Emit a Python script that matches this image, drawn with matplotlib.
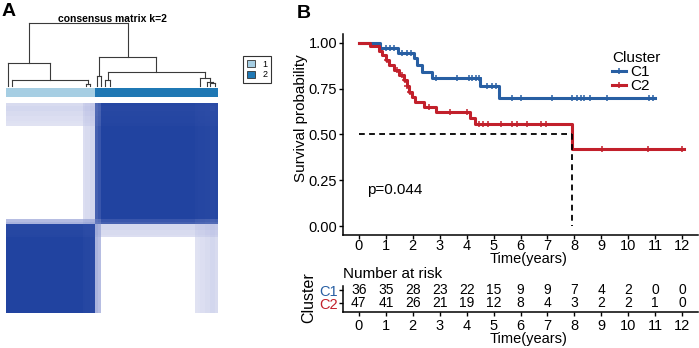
import numpy as np
import matplotlib
matplotlib.use("Agg")
import matplotlib.pyplot as plt
from matplotlib.colors import LinearSegmentedColormap, ListedColormap
from matplotlib.lines import Line2D
from matplotlib.patches import Patch

plt.rcParams['font.family'] = ['Liberation Sans', 'DejaVu Sans']

# ---------------- data: panel A (consensus clustering) ----------------
n_cluster1 = 35
n_cluster2 = 48
# membership in cluster 1 for samples that are not clean
mixed_samples = {30: 0.92, 31: 0.9, 32: 0.9, 33: 0.88, 34: 0.88,
                 35: 0.3, 36: 0.25,
                 74: 0.06, 75: 0.07, 76: 0.08, 77: 0.08, 78: 0.1,
                 79: 0.1, 80: 0.12, 81: 0.12, 82: 0.1}
# dendrogram: (height, left, right); leaves are sample positions
dendro_tree = (1.00,
               (0.362, 0.67, (0.096, 2.47, (0.03, 31.2, 32.8))),
               (0.458, (0.16, 35.6, 37.2),
                (0.223, (0.096, 38.8, 40.7),
                 (0.128, 76.0, (0.069, 78.6, (0.043, 79.9, 81.8))))))

# ---------------- data: panel B (survival) ----------------
c1_times = [0, 0.80, 1.45, 2.04, 2.17, 2.35, 2.72, 4.48, 5.20]
c1_surv = [1.0, 0.972, 0.944, 0.915, 0.878, 0.842, 0.809, 0.762, 0.700]
c1_end = 11.0
c1_censor = [1.0, 1.15, 1.3, 1.6, 1.8, 1.95, 2.85, 3.65, 4.08, 4.2, 4.33,
             4.45, 4.75, 4.95, 5.1, 5.69, 6.0, 7.18, 7.92, 8.1, 8.23, 8.35,
             8.57, 9.22, 10.76, 10.9]

c2_times = [0, 0.43, 0.74, 0.87, 0.99, 1.11, 1.30, 1.48, 1.67, 1.77, 1.86,
            1.98, 2.10, 2.41, 2.85, 4.14, 4.31, 7.92]
c2_surv = [1.0, 0.982, 0.956, 0.933, 0.906, 0.878, 0.851, 0.824, 0.797,
           0.764, 0.733, 0.705, 0.678, 0.651, 0.624, 0.588, 0.556, 0.418]
c2_end = 12.05
c2_censor = [1.05, 1.42, 1.61, 1.73, 1.8, 1.9, 2.6, 3.38, 4.02, 4.45, 4.62,
             4.78, 5.26, 5.69, 5.85, 6.25, 6.76, 6.93, 9.03, 10.72, 12.0]

years = list(range(0, 13))
c1_risk = [36, 35, 28, 23, 22, 15, 9, 9, 7, 4, 2, 0, 0]
c2_risk = [47, 41, 26, 21, 19, 12, 8, 4, 3, 2, 2, 1, 0]
p_text = "p=0.044"

C1_COL = '#285FA3'
C2_COL = '#C2202B'

W, H = 699, 348
fig = plt.figure(figsize=(W / 100, H / 100), dpi=100)


def box(x0, y0, x1, y1):
    # pixel rectangle (origin top-left) -> figure fraction
    return [x0 / W, 1 - y1 / H, (x1 - x0) / W, (y1 - y0) / H]


def fpos(x, y):
    return x / W, 1 - y / H


# ================= Panel A =================
n_all = n_cluster1 + n_cluster2
p1 = np.array([1.0] * n_cluster1 + [0.0] * n_cluster2)
for i, v in mixed_samples.items():
    p1[i] = v
p2 = 1 - p1
cons = np.outer(p1, p1) + np.outer(p2, p2)

heat_cmap = LinearSegmentedColormap.from_list(
    'cons', [(0, 'white'), (0.04, '#E4E6F4'), (0.2, '#C3C8E8'),
             (0.8, '#2D4CA6'), (1, '#2143A0')])
ax_h = fig.add_axes(box(6, 103, 218, 313))
ax_h.imshow(cons[::-1, :], cmap=heat_cmap, vmin=0, vmax=1, aspect='auto',
            interpolation='nearest', extent=(0, n_all, 0, n_all))
ax_h.axis('off')

ax_bar = fig.add_axes(box(6, 88, 218, 97))
labels = np.array([[0] * n_cluster1 + [1] * n_cluster2])
ax_bar.imshow(labels, cmap=ListedColormap(['#A6CEE3', '#1F78B4']),
              aspect='auto', interpolation='nearest', extent=(0, n_all, 0, 1))
ax_bar.axis('off')

ax_d = fig.add_axes(box(6, 23.3, 218, 86))
ax_d.set_xlim(0, n_all)
ax_d.set_ylim(0, 1)
ax_d.axis('off')


def draw_node(node):
    if not isinstance(node, tuple):
        return node, 0.0
    h, left, right = node
    xl, hl = draw_node(left)
    xr, hr = draw_node(right)
    kw = dict(color='#3a3a3a', lw=0.8, clip_on=False)
    ax_d.plot([xl, xl], [hl, h], **kw)
    ax_d.plot([xr, xr], [hr, h], **kw)
    ax_d.plot([xl, xr], [h, h], **kw)
    return (xl + xr) / 2, h


draw_node(dendro_tree)

fig.text(*fpos(112.5, 19), 'consensus matrix k=2', fontsize=7.5,
         fontweight='bold', ha='center', va='center')

leg_a = fig.legend(handles=[Patch(facecolor='#A6CEE3', edgecolor='#333333', lw=0.6),
                            Patch(facecolor='#1F78B4', edgecolor='#333333', lw=0.6)],
                   labels=['1', '2'], loc='upper left',
                   bbox_to_anchor=fpos(243, 56), borderaxespad=0,
                   fontsize=6.5, handlelength=0.9, handleheight=0.8,
                   handletextpad=0.8, labelspacing=0.15, borderpad=0.45,
                   fancybox=False, edgecolor='#333333', framealpha=1)
leg_a.get_frame().set_linewidth(0.8)

fig.text(*fpos(2, 12), 'A', fontsize=14, fontweight='bold',
         ha='left', va='center')

# ================= Panel B =================
ax = fig.add_axes(box(342.7, 33.5, 698.4, 235.2))


def draw_km(times, surv, t_end, censor, color):
    xs = list(times) + [t_end]
    ys = list(surv) + [surv[-1]]
    ax.step(xs, ys, where='post', color=color, lw=2.2)
    idx = np.searchsorted(times, censor, side='right') - 1
    ax.plot(censor, np.array(surv)[idx], ls='none', marker='+', ms=5,
            mew=1.1, color=color)


draw_km(c1_times, c1_surv, c1_end, c1_censor, C1_COL)
draw_km(c2_times, c2_surv, c2_end, c2_censor, C2_COL)

# median survival line for C2
med = c2_times[next(i for i, s in enumerate(c2_surv) if s <= 0.5)]
ax.plot([0, med], [0.5, 0.5], color='black', lw=1.3, dashes=(3.2, 2.4))
ax.plot([med, med], [0.5, 0], color='black', lw=1.3, dashes=(3.2, 2.4))

ax.text(0.29, 0.196, p_text, fontsize=11, ha='left', va='center')

ax.set_xlim(-0.6, 12.6)
ax.set_ylim(-0.05, 1.05)
ax.set_xticks(years)
ax.set_yticks([0, 0.25, 0.5, 0.75, 1.0])
ax.set_yticklabels(['0.00', '0.25', '0.50', '0.75', '1.00'])
for s in ['top', 'right']:
    ax.spines[s].set_visible(False)
for s in ['left', 'bottom']:
    ax.spines[s].set_linewidth(1.1)
ax.tick_params(direction='out', length=3, width=1, labelsize=10.5, pad=1)
ax.tick_params(axis='x', pad=0)

fig.text(*fpos(301, 118.5), 'Survival probability', fontsize=11,
         rotation=90, ha='center', va='center')
fig.text(*fpos(529, 259), 'Time(years)', fontsize=10.5, ha='center',
         va='center')

handles = [Line2D([], [], color=C1_COL, lw=2.2, marker='+', ms=5, mew=1.1),
           Line2D([], [], color=C2_COL, lw=2.2, marker='+', ms=5, mew=1.1)]
ax.legend(handles, ['C1', 'C2'], title='Cluster', loc='upper left',
          bbox_to_anchor=fpos(612, 51.5), bbox_transform=fig.transFigure,
          frameon=False, fontsize=11, title_fontsize=11, handlelength=0.9,
          handletextpad=0.3, labelspacing=0.0, borderpad=0,
          borderaxespad=0, alignment='left')

fig.text(*fpos(297, 14), 'B', fontsize=14, fontweight='bold',
         ha='left', va='center')

# risk table (C1 row at y=2, C2 row at y=1)
ax_r = fig.add_axes(box(342.7, 285.5, 698.4, 311.7))
for t, a, b in zip(years, c1_risk, c2_risk):
    ax_r.text(t, 2, str(a), ha='center', va='center', fontsize=10)
    ax_r.text(t, 1, str(b), ha='center', va='center', fontsize=10)
ax_r.set_xlim(-0.6, 12.6)
ax_r.set_ylim(0.35, 2.35)
ax_r.set_xticks(years)
ax_r.set_yticks([2, 1])
ax_r.set_yticklabels(['C1', 'C2'])
for lab, col in zip(ax_r.get_yticklabels(), [C1_COL, C2_COL]):
    lab.set_color(col)
for s in ['top', 'right']:
    ax_r.spines[s].set_visible(False)
for s in ['left', 'bottom']:
    ax_r.spines[s].set_linewidth(1.1)
ax_r.tick_params(axis='x', direction='out', length=3, width=1,
                 labelsize=10.5, pad=2)
ax_r.tick_params(axis='y', direction='out', length=3, width=1,
                 labelsize=10.5, pad=0.5)

fig.text(*fpos(343, 274), 'Number at risk', fontsize=11, ha='left',
         va='center')
fig.text(*fpos(309, 298), 'Cluster', fontsize=11.5, rotation=90,
         ha='center', va='center')
fig.text(*fpos(529, 339.5), 'Time(years)', fontsize=10.5, ha='center',
         va='center')

fig.savefig('out.png', dpi=100)
